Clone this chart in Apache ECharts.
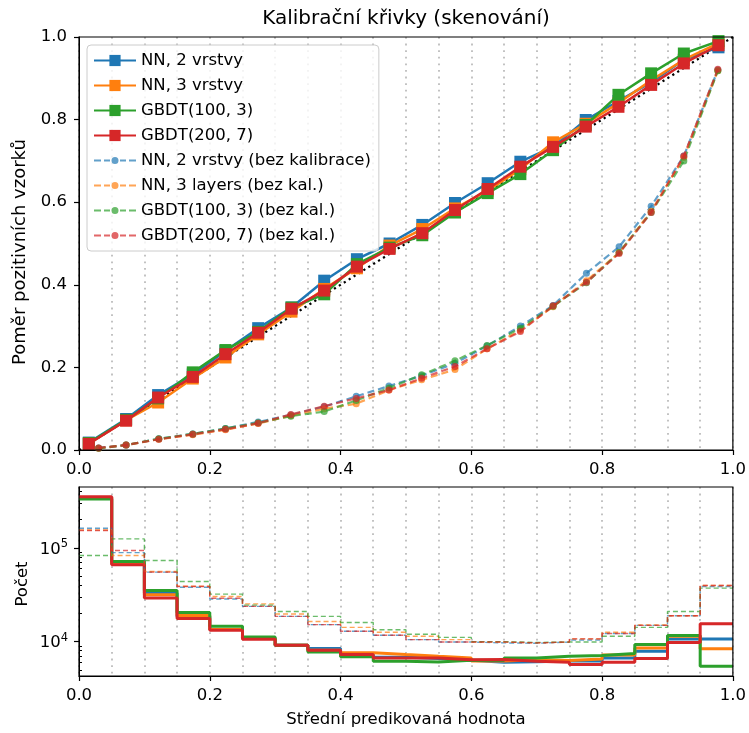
<!DOCTYPE html>
<html>
<head>
<meta charset="utf-8">
<script src="https://cdn.jsdelivr.net/npm/echarts@6/dist/echarts.min.js"></script>
<style>html,body{margin:0;padding:0;background:#fff}#c{width:749px;height:733px}</style>
</head>
<body>
<div id="c"></div>
<script>
// ---------- data ----------
const seriesNames = ['NN, 2 vrstvy', 'NN, 3 vrstvy', 'GBDT(100, 3)', 'GBDT(200, 7)'];
const uncalNames = ['NN, 2 vrstvy (bez kalibrace)', 'NN, 3 layers (bez kal.)', 'GBDT(100, 3) (bez kal.)', 'GBDT(200, 7) (bez kal.)'];
const colors = ['#1f77b4', '#ff7f0e', '#2ca02c', '#d62728'];

// mean predicted value (x) of calibrated curves
const xCal = [0.015, 0.072, 0.121, 0.174, 0.224, 0.274, 0.325, 0.375, 0.425, 0.475, 0.525, 0.575, 0.625, 0.675, 0.725, 0.775, 0.825, 0.875, 0.925, 0.978];
const calNN2  = [0.018, 0.075, 0.133, 0.183, 0.240, 0.295, 0.345, 0.410, 0.462, 0.500, 0.545, 0.598, 0.646, 0.698, 0.734, 0.799, 0.845, 0.890, 0.945, 0.975];
const calNN3  = [0.015, 0.072, 0.115, 0.173, 0.224, 0.280, 0.335, 0.390, 0.440, 0.495, 0.535, 0.585, 0.628, 0.680, 0.745, 0.790, 0.840, 0.895, 0.945, 0.985];
const calG100 = [0.017, 0.073, 0.125, 0.188, 0.242, 0.286, 0.345, 0.377, 0.450, 0.490, 0.520, 0.575, 0.622, 0.668, 0.726, 0.787, 0.860, 0.912, 0.960, 0.990];
const calG200 = [0.015, 0.071, 0.127, 0.177, 0.232, 0.284, 0.342, 0.386, 0.444, 0.487, 0.525, 0.581, 0.632, 0.686, 0.734, 0.783, 0.831, 0.884, 0.936, 0.980];

// mean predicted value (x) of uncalibrated curves
const xUncal = [0.030, 0.072, 0.122, 0.174, 0.224, 0.274, 0.324, 0.375, 0.424, 0.474, 0.524, 0.575, 0.624, 0.675, 0.725, 0.776, 0.826, 0.875, 0.925, 0.977];
const uncNN2  = [0.005, 0.012, 0.027, 0.039, 0.052, 0.068, 0.085, 0.105, 0.130, 0.155, 0.180, 0.210, 0.252, 0.300, 0.350, 0.428, 0.492, 0.590, 0.712, 0.920];
const uncNN3  = [0.004, 0.012, 0.026, 0.037, 0.049, 0.064, 0.083, 0.100, 0.112, 0.145, 0.170, 0.195, 0.245, 0.290, 0.347, 0.410, 0.478, 0.578, 0.708, 0.918];
const uncG100 = [0.004, 0.012, 0.027, 0.039, 0.052, 0.066, 0.082, 0.093, 0.120, 0.150, 0.182, 0.216, 0.253, 0.295, 0.348, 0.405, 0.478, 0.575, 0.700, 0.918];
const uncG200 = [0.005, 0.012, 0.026, 0.038, 0.050, 0.065, 0.086, 0.106, 0.125, 0.145, 0.174, 0.202, 0.245, 0.287, 0.349, 0.406, 0.476, 0.575, 0.712, 0.922];

// perfect calibration reference
const perfectLine = [[0, 0], [1, 1]];

// histogram bin edges and counts
const binEdges = [0, 0.05, 0.1, 0.15, 0.2, 0.25, 0.3, 0.35, 0.4, 0.45, 0.5, 0.55, 0.6, 0.65, 0.7, 0.75, 0.8, 0.85, 0.9, 0.95, 1.0];
const histNN2  = [345000, 68000, 33000, 18500, 13500, 10900, 9140, 8430, 7300, 6800, 6600, 6330, 6030, 6100, 6200, 6200, 6700, 7900, 10700, 10700];
const histNN3  = [345000, 68000, 31600, 19000, 13500, 10900, 9140, 8100, 7600, 7280, 6980, 6700, 6200, 6400, 6300, 6540, 7200, 8570, 11400, 8400];
const histG100 = [332000, 71400, 35200, 20500, 14600, 11200, 9140, 7770, 6900, 6170, 6080, 6330, 6300, 6700, 6980, 7100, 7450, 9300, 11600, 5460];
const histG200 = [351000, 65900, 29200, 17600, 13200, 10600, 9140, 8100, 7300, 6710, 6700, 6400, 6440, 6170, 6030, 5700, 6030, 6600, 9800, 15500];
const histUncNN2  = [162000, 89000, 55100, 38000, 28500, 23800, 18600, 15200, 12900, 11700, 10500, 9900, 9700, 9600, 9900, 10400, 12200, 14900, 18900, 38800];
const histUncNN3  = [155000, 83000, 56000, 39000, 30300, 25300, 19700, 16400, 14200, 12600, 11400, 10500, 9900, 9700, 9900, 10700, 12600, 15100, 18900, 39700];
const histUncG100 = [82800, 124700, 73300, 43800, 32100, 24500, 21000, 18600, 16000, 13400, 11970, 11100, 10000, 9800, 9900, 9900, 11400, 14200, 21000, 37200];
const histUncG200 = [153000, 93600, 55100, 38800, 29000, 23800, 18600, 15200, 12900, 11700, 10500, 9900, 9900, 9700, 9900, 10700, 12200, 14900, 18900, 39700];

const logMajorTicks = [10000, 100000];
const logMinorTicks = [5000, 6000, 7000, 8000, 9000, 20000, 30000, 40000, 50000, 60000, 70000, 80000, 90000, 200000, 300000, 400000];

// ---------- build ----------
const FONT = 'DejaVu Sans';
const calData = [calNN2, calNN3, calG100, calG200];
const uncData = [uncNN2, uncNN3, uncG100, uncG200];
const histCal = [histNN2, histNN3, histG100, histG200];
const histUnc = [histUncNN2, histUncNN3, histUncG100, histUncG200];

const dashIcon = 'path://M0 0h0.01v0.01h-0.01z M0 13.99h0.01v0.01h-0.01z M0 6.1h7v1.8H0z M10 6.1h6v1.8H10z M26 6.1h6v1.8H26z M35 6.1h7v1.8H35z M17.5 7a3.5 3.5 0 1 0 7 0a3.5 3.5 0 1 0 -7 0z';

const series = [];
series.push({
  type: 'line', xAxisIndex: 0, yAxisIndex: 0, data: perfectLine,
  symbol: 'none', silent: true, z: 1,
  lineStyle: {color: '#000', width: 2.2, type: [2.2, 3.6]}
});
for (let i = 0; i < 4; i++) {
  series.push({
    name: seriesNames[i], type: 'line', xAxisIndex: 0, yAxisIndex: 0,
    data: xCal.map((x, j) => [x, calData[i][j]]),
    symbol: 'rect', symbolSize: 12, color: colors[i],
    lineStyle: {color: colors[i], width: 2.5},
    itemStyle: {color: colors[i]}, z: 3 + i
  });
}
for (let i = 0; i < 4; i++) {
  series.push({
    name: uncalNames[i], type: 'line', xAxisIndex: 0, yAxisIndex: 0,
    data: xUncal.map((x, j) => [x, uncData[i][j]]),
    symbol: 'circle', symbolSize: 7, color: colors[i],
    lineStyle: {color: colors[i], width: 2.2, type: [7, 4], opacity: 0.7},
    itemStyle: {color: colors[i], opacity: 0.7}, z: 8 + i
  });
}
function stepData(vals) {
  return binEdges.map((e, k) => [e, vals[Math.min(k, vals.length - 1)]]);
}
for (let i = 0; i < 4; i++) {
  series.push({
    name: 'h_' + seriesNames[i], type: 'line', xAxisIndex: 2, yAxisIndex: 1,
    data: stepData(histCal[i]), step: 'end', symbol: 'none',
    lineStyle: {color: colors[i], width: 3}, z: 3 + i
  });
}
for (let i = 0; i < 4; i++) {
  series.push({
    name: 'h_' + uncalNames[i], type: 'line', xAxisIndex: 2, yAxisIndex: 1,
    data: stepData(histUnc[i]), step: 'end', symbol: 'none',
    lineStyle: {color: colors[i], width: 1.4, type: [5, 3], opacity: 0.7}, z: 8 + i
  });
}

const labelStyle = {color: '#000', fontSize: 16.5, fontFamily: FONT};
function mainX(gridIndex) {
  return {
    type: 'value', gridIndex, min: 0, max: 1, interval: 0.2,
    axisLine: {show: true, lineStyle: {color: '#000', width: 1}},
    axisTick: {show: true, length: 5, lineStyle: {color: '#000', width: 1.2}},
    axisLabel: Object.assign({margin: 11, formatter: v => v.toFixed(1)}, labelStyle),
    splitLine: {show: false}
  };
}
function gridX(gridIndex) {
  return {
    type: 'value', gridIndex, min: 0, max: 1, interval: 0.05,
    axisLine: {show: false}, axisTick: {show: false}, axisLabel: {show: false},
    splitLine: {show: true, lineStyle: {color: '#bcbcbc', width: 1.8, type: [1.8, 4.8]}}
  };
}

const option = {
  animation: false,
  backgroundColor: '#fff',
  textStyle: {fontFamily: FONT},
  grid: [
    {left: 79, top: 37, width: 654, height: 413, show: true, borderColor: '#000', borderWidth: 1.2, backgroundColor: 'transparent', z: 50},
    {left: 79, top: 487, width: 654, height: 189, show: true, borderColor: '#000', borderWidth: 1.2, backgroundColor: 'transparent', z: 50}
  ],
  xAxis: [mainX(0), gridX(0), mainX(1), gridX(1)],
  yAxis: [
    {
      type: 'value', gridIndex: 0, min: 0, max: 1, interval: 0.2,
      axisLine: {show: true, lineStyle: {color: '#000'}},
      axisTick: {show: true, length: 5, lineStyle: {color: '#000', width: 1.2}},
      axisLabel: Object.assign({margin: 12, formatter: v => v.toFixed(1)}, labelStyle),
      splitLine: {show: false}
    },
    {
      type: 'log', logBase: 10, gridIndex: 1, min: 4300, max: 446000,
      axisLine: {show: true, lineStyle: {color: '#000'}},
      axisTick: {show: true, length: 5, customValues: logMajorTicks, lineStyle: {color: '#000', width: 1.2}},
      axisLabel: {
        margin: 11, customValues: logMajorTicks,
        formatter: v => '{b|10}{s|' + Math.round(Math.log10(v)) + '}',
        rich: {
          b: {fontSize: 16.5, fontFamily: FONT, color: '#000', lineHeight: 20, verticalAlign: 'bottom'},
          s: {fontSize: 11.5, fontFamily: FONT, color: '#000', lineHeight: 12, verticalAlign: 'top'}
        }
      },
      splitLine: {show: false}
    },
    {
      type: 'log', logBase: 10, gridIndex: 1, min: 4300, max: 446000,
      axisLine: {show: false},
      axisTick: {show: true, length: 3, customValues: logMinorTicks, lineStyle: {color: '#000', width: 1}},
      axisLabel: {show: false},
      splitLine: {show: false}
    }
  ],
  legend: {
    orient: 'vertical', left: 87, top: 45,
    padding: [7, 8, 7, 6],
    itemWidth: 42, itemHeight: 14, itemGap: 8,
    backgroundColor: 'rgba(255,255,255,0.8)',
    borderColor: '#cccccc', borderWidth: 1, borderRadius: 4,
    textStyle: {fontSize: 16.5, fontFamily: FONT, color: '#000'},
    data: seriesNames.map(n => ({name: n})).concat(uncalNames.map(n => ({name: n, icon: dashIcon}))),
    selectedMode: false, z: 60
  },
  graphic: [
    {type: 'text', x: 406, y: 19, style: {text: 'Kalibrační křivky (skenování)', font: '20px "DejaVu Sans"', fill: '#000', align: 'center', verticalAlign: 'middle'}},
    {type: 'text', x: 20, y: 252, rotation: Math.PI / 2, style: {text: 'Poměr pozitivních vzorků', font: '18px "DejaVu Sans"', fill: '#000', align: 'center', verticalAlign: 'middle'}},
    {type: 'text', x: 23, y: 584, rotation: Math.PI / 2, style: {text: 'Počet', font: '16.5px "DejaVu Sans"', fill: '#000', align: 'center', verticalAlign: 'middle'}},
    {type: 'text', x: 406, y: 720, style: {text: 'Střední predikovaná hodnota', font: '16.5px "DejaVu Sans"', fill: '#000', align: 'center', verticalAlign: 'middle'}}
  ],
  series
};
const chart = echarts.init(document.getElementById('c'), null, {renderer: 'canvas'});
chart.setOption(option);
</script>
</body>
</html>
